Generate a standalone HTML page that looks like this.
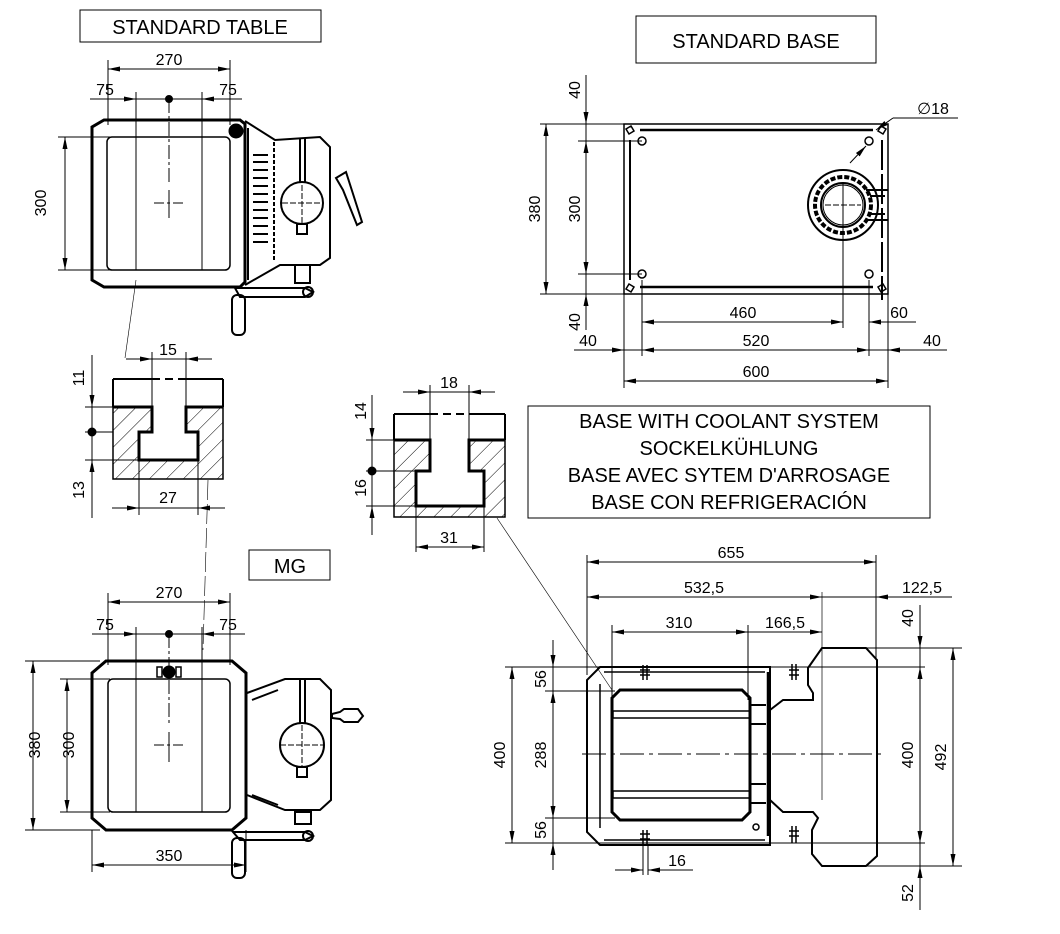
<!DOCTYPE html>
<html><head><meta charset="utf-8"><style>
html,body{margin:0;padding:0;background:#fff;}
svg{display:block;}
text{font-family:"Liberation Sans",sans-serif;fill:#000;}
</style></head><body>
<svg width="1060" height="934" viewBox="0 0 1060 934" xmlns="http://www.w3.org/2000/svg">
<defs>
<marker id="a" viewBox="0 0 12 6" refX="12" refY="3" markerWidth="12" markerHeight="6" markerUnits="userSpaceOnUse" orient="auto-start-reverse"><path d="M0,0.5 L12,3 L0,5.5z" fill="#000"/></marker>
<pattern id="h" patternUnits="userSpaceOnUse" width="12" height="12" patternTransform="rotate(45)"><line x1="0" y1="0" x2="0" y2="12" stroke="#000" stroke-width="1"/></pattern>
</defs>
<g stroke="#000" fill="none" stroke-width="1">

<rect x="80" y="10" width="241" height="32"/>
<rect x="636" y="16" width="240" height="47"/>
<rect x="249" y="550" width="81" height="30"/>
<rect x="528" y="406" width="402" height="112"/>

<!-- STANDARD TABLE -->
<line x1="108" y1="60" x2="108" y2="125"/><line x1="230" y1="60" x2="230" y2="125"/>
<line x1="108" y1="69" x2="230" y2="69" marker-start="url(#a)" marker-end="url(#a)"/>
<line x1="90" y1="99" x2="136" y2="99" marker-end="url(#a)"/>
<line x1="136" y1="99" x2="202" y2="99"/>
<line x1="242" y1="99" x2="202" y2="99" marker-end="url(#a)"/>
<circle cx="169" cy="99" r="3.5" fill="#000"/>
<line x1="136" y1="92" x2="136" y2="270"/><line x1="202" y1="92" x2="202" y2="270"/>
<line x1="169" y1="99" x2="169" y2="185" stroke-dasharray="14,3,3,3"/>
<line x1="154" y1="203" x2="184" y2="203" stroke-dasharray="10,3,3,3"/>
<line x1="169" y1="190" x2="169" y2="218"/>
<polygon points="104,120 240,120 245,124 245,282 240,287 104,287 92,280 92,127" stroke-width="3"/>
<rect x="107" y="137" width="123" height="133" rx="5" stroke-width="1.5"/>
<line x1="58" y1="137" x2="110" y2="137"/><line x1="58" y1="270" x2="110" y2="270"/>
<line x1="65" y1="137" x2="65" y2="270" marker-start="url(#a)" marker-end="url(#a)"/>
<path d="M245,121 L275,140 L320,137 L330,147 L330,258 L320,265 L280,265 L245,285" stroke-width="2"/>
<line x1="248" y1="128" x2="248" y2="280" stroke-width="2"/>
<g stroke-width="2"><line x1="253" y1="155" x2="268" y2="155"/><line x1="253" y1="162" x2="268" y2="162"/><line x1="253" y1="170" x2="268" y2="170"/><line x1="253" y1="178" x2="268" y2="178"/><line x1="253" y1="186" x2="268" y2="186"/><line x1="253" y1="194" x2="268" y2="194"/><line x1="253" y1="202" x2="268" y2="202"/><line x1="253" y1="210" x2="268" y2="210"/><line x1="253" y1="218" x2="268" y2="218"/><line x1="253" y1="226" x2="268" y2="226"/><line x1="253" y1="234" x2="268" y2="234"/><line x1="253" y1="242" x2="268" y2="242"/></g>
<line x1="274" y1="142" x2="274" y2="262" stroke-width="2" stroke-dasharray="4,2"/>
<circle cx="302" cy="203" r="21" stroke-width="2"/>
<line x1="300" y1="138" x2="300" y2="183" stroke-width="2"/><line x1="305" y1="138" x2="305" y2="183" stroke-width="2"/>
<rect x="297" y="224" width="10" height="10" stroke-width="2"/>
<line x1="282" y1="203" x2="322" y2="203" stroke-dasharray="6,2"/>
<line x1="302" y1="185" x2="302" y2="225" stroke-dasharray="6,2"/>
<path d="M336,178 L346,172 L362,222 L357,225 L343,190 Z" stroke-width="2"/>
<circle cx="236" cy="131" r="7" fill="#000"/>
<rect x="295" y="265" width="15" height="18" stroke-width="2"/>
<path d="M235,288 L305,288 L313,292 L305,297 L240,297 Z" stroke-width="2"/>
<circle cx="308" cy="292" r="5" stroke-width="2"/>
<rect x="232" y="295" width="13" height="40" rx="5" stroke-width="2"/>

<line x1="125" y1="358" x2="136" y2="280" stroke-width="0.6"/>
<line x1="208" y1="480" x2="203" y2="650" stroke-width="0.6" stroke-dasharray="20,4"/>
<line x1="497" y1="518" x2="612" y2="690" stroke-width="0.6"/>

<!-- T-SLOT 1 -->
<line x1="113" y1="379" x2="113" y2="407" stroke-width="2"/><line x1="223" y1="379" x2="223" y2="407" stroke-width="2"/>
<line x1="113" y1="379" x2="152" y2="379" stroke-width="2"/><line x1="186" y1="379" x2="223" y2="379" stroke-width="2"/>
<line x1="152" y1="379" x2="186" y2="379" stroke-width="2" stroke-dasharray="8,5"/>
<polygon points="113,407 152,407 152,432 139,432 139,460 198,460 198,432 186,432 186,407 223,407 223,479 113,479" fill="url(#h)" stroke-width="1.5"/>
<polyline points="113,407 152,407 152,432 139,432 139,460 198,460 198,432 186,432 186,407 223,407" stroke-width="3"/>
<line x1="152" y1="352" x2="152" y2="407"/><line x1="186" y1="352" x2="186" y2="407"/>
<line x1="126" y1="359" x2="152" y2="359" marker-end="url(#a)"/><line x1="152" y1="359" x2="186" y2="359"/><line x1="212" y1="359" x2="186" y2="359" marker-end="url(#a)"/>
<line x1="85" y1="407" x2="113" y2="407"/><line x1="85" y1="432" x2="113" y2="432"/><line x1="85" y1="460" x2="139" y2="460"/>
<line x1="92" y1="355" x2="92" y2="407" marker-end="url(#a)"/>
<line x1="92" y1="407" x2="92" y2="460"/>
<line x1="92" y1="518" x2="92" y2="460" marker-end="url(#a)"/>
<circle cx="92" cy="432" r="4" fill="#000"/>
<line x1="139" y1="460" x2="139" y2="515"/><line x1="198" y1="460" x2="198" y2="515"/>
<line x1="112" y1="508" x2="139" y2="508" marker-end="url(#a)"/><line x1="139" y1="508" x2="198" y2="508"/><line x1="225" y1="508" x2="198" y2="508" marker-end="url(#a)"/>

<!-- T-SLOT 2 -->
<line x1="394" y1="414" x2="394" y2="440" stroke-width="2"/><line x1="505" y1="414" x2="505" y2="440" stroke-width="2"/>
<line x1="394" y1="414" x2="430" y2="414" stroke-width="2"/><line x1="469" y1="414" x2="505" y2="414" stroke-width="2"/>
<line x1="430" y1="414" x2="469" y2="414" stroke-width="2" stroke-dasharray="8,5"/>
<polygon points="394,440 430,440 430,471 416,471 416,506 484,506 484,471 469,471 469,440 505,440 505,517 394,517" fill="url(#h)" stroke-width="1.5"/>
<polyline points="394,440 430,440 430,471 416,471 416,506 484,506 484,471 469,471 469,440 505,440" stroke-width="3"/>
<line x1="430" y1="385" x2="430" y2="440"/><line x1="469" y1="385" x2="469" y2="440"/>
<line x1="403" y1="392" x2="430" y2="392" marker-end="url(#a)"/><line x1="430" y1="392" x2="469" y2="392"/><line x1="495" y1="392" x2="469" y2="392" marker-end="url(#a)"/>
<line x1="366" y1="440" x2="394" y2="440"/><line x1="366" y1="471" x2="416" y2="471"/><line x1="366" y1="506" x2="416" y2="506"/>
<line x1="372" y1="395" x2="372" y2="440" marker-end="url(#a)"/>
<line x1="372" y1="440" x2="372" y2="506"/>
<line x1="372" y1="535" x2="372" y2="506" marker-end="url(#a)"/>
<circle cx="372" cy="471" r="4" fill="#000"/>
<line x1="416" y1="506" x2="416" y2="552"/><line x1="484" y1="506" x2="484" y2="552"/>
<line x1="416" y1="547" x2="484" y2="547" marker-start="url(#a)" marker-end="url(#a)"/>

<!-- STANDARD BASE -->
<rect x="624" y="124" width="264" height="170" stroke-width="1.5"/>
<line x1="640" y1="130" x2="873" y2="130" stroke-width="2.5"/>
<line x1="640" y1="287" x2="873" y2="287" stroke-width="2.5"/>
<line x1="630" y1="140" x2="630" y2="280" stroke-width="2"/>
<line x1="882" y1="140" x2="882" y2="300" stroke-width="2" stroke-dasharray="30,4"/>
<circle cx="642" cy="141" r="4" stroke-width="1.5"/><circle cx="869" cy="141" r="4" stroke-width="1.5"/>
<circle cx="642" cy="274" r="4" stroke-width="1.5"/><circle cx="869" cy="274" r="4" stroke-width="1.5"/>
<path d="M626,129 L631,126 L634,131 L629,134 Z" stroke-width="1.5"/>
<path d="M626,289 L631,292 L634,287 L629,284 Z" stroke-width="1.5"/>
<path d="M886,129 L881,126 L878,131 L883,134 Z" stroke-width="1.5"/>
<path d="M886,289 L881,292 L878,287 L883,284 Z" stroke-width="1.5"/>
<circle cx="843" cy="205" r="35" stroke-width="2"/>
<circle cx="843" cy="205" r="28" stroke-width="4" stroke-dasharray="5,2"/>
<circle cx="843" cy="205" r="22" stroke-width="2"/>
<circle cx="843" cy="205" r="20" stroke-width="1"/>
<path d="M866,190 L888,190 M866,220 L888,220 M870,196 L885,196 M870,214 L885,214" stroke-width="2"/>
<line x1="843" y1="182" x2="843" y2="328"/><line x1="825" y1="205" x2="861" y2="205" stroke-dasharray="6,2"/>
<line x1="540" y1="124" x2="624" y2="124"/><line x1="540" y1="294" x2="624" y2="294"/>
<line x1="578" y1="141" x2="642" y2="141"/><line x1="578" y1="274" x2="642" y2="274"/>
<line x1="546" y1="124" x2="546" y2="294" marker-start="url(#a)" marker-end="url(#a)"/>
<line x1="586" y1="141" x2="586" y2="274" marker-start="url(#a)" marker-end="url(#a)"/>
<line x1="586" y1="75" x2="586" y2="124" marker-end="url(#a)"/>
<line x1="586" y1="124" x2="586" y2="141"/>
<line x1="586" y1="330" x2="586" y2="294" marker-end="url(#a)"/>
<line x1="586" y1="274" x2="586" y2="294"/>
<line x1="642" y1="280" x2="642" y2="356"/><line x1="869" y1="280" x2="869" y2="356"/>
<line x1="624" y1="294" x2="624" y2="388"/><line x1="888" y1="294" x2="888" y2="388"/>
<line x1="642" y1="322" x2="843" y2="322" marker-start="url(#a)" marker-end="url(#a)"/>
<line x1="916" y1="322" x2="869" y2="322" marker-end="url(#a)"/>
<line x1="574" y1="350" x2="624" y2="350" marker-end="url(#a)"/>
<line x1="624" y1="350" x2="642" y2="350"/>
<line x1="642" y1="350" x2="869" y2="350" marker-start="url(#a)" marker-end="url(#a)"/>
<line x1="869" y1="350" x2="888" y2="350"/>
<line x1="947" y1="350" x2="888" y2="350" marker-end="url(#a)"/>
<line x1="624" y1="381" x2="888" y2="381" marker-start="url(#a)" marker-end="url(#a)"/>
<line x1="958" y1="118" x2="893" y2="118"/>
<line x1="893" y1="118" x2="876" y2="130" marker-end="url(#a)"/>
<line x1="850" y1="163" x2="866" y2="146" marker-end="url(#a)"/>

<!-- MG -->
<line x1="108" y1="593" x2="108" y2="665"/><line x1="230" y1="593" x2="230" y2="665"/>
<line x1="108" y1="602" x2="230" y2="602" marker-start="url(#a)" marker-end="url(#a)"/>
<line x1="92" y1="634" x2="136" y2="634" marker-end="url(#a)"/>
<line x1="136" y1="634" x2="202" y2="634"/>
<line x1="245" y1="634" x2="202" y2="634" marker-end="url(#a)"/>
<line x1="136" y1="627" x2="136" y2="812"/><line x1="202" y1="627" x2="202" y2="812"/>
<line x1="169" y1="634" x2="169" y2="725" stroke-dasharray="14,3,3,3"/>
<line x1="154" y1="745" x2="184" y2="745" stroke-dasharray="10,3,3,3"/>
<line x1="169" y1="732" x2="169" y2="762"/>
<circle cx="169" cy="634" r="3.5" fill="#000"/>
<polygon points="106,661 232,661 246,673 246,818 232,830 106,830 92,818 92,673" stroke-width="3"/>
<rect x="108" y="679" width="122" height="133" rx="5" stroke-width="1.5"/>
<circle cx="169" cy="672" r="6" fill="#000"/>
<rect x="157" y="667" width="5" height="10" stroke-width="1.5"/><rect x="176" y="667" width="5" height="10" stroke-width="1.5"/>
<line x1="25" y1="661" x2="100" y2="661"/><line x1="25" y1="830" x2="100" y2="830"/>
<line x1="60" y1="679" x2="110" y2="679"/><line x1="60" y1="812" x2="110" y2="812"/>
<line x1="33" y1="661" x2="33" y2="830" marker-start="url(#a)" marker-end="url(#a)"/>
<line x1="67" y1="679" x2="67" y2="812" marker-start="url(#a)" marker-end="url(#a)"/>
<line x1="92" y1="830" x2="92" y2="872"/><line x1="246" y1="830" x2="246" y2="872"/>
<line x1="92" y1="865" x2="246" y2="865" marker-start="url(#a)" marker-end="url(#a)"/>
<path d="M247,693 L285,679 L320,679 L331,690 L331,800 L320,810 L285,810 L247,795" stroke-width="2"/>
<line x1="252" y1="700" x2="278" y2="690" stroke-width="2"/><line x1="252" y1="795" x2="278" y2="805" stroke-width="2"/>
<circle cx="302" cy="745" r="22" stroke-width="2"/>
<line x1="300" y1="680" x2="300" y2="723" stroke-width="2"/><line x1="305" y1="680" x2="305" y2="723" stroke-width="2"/>
<rect x="297" y="767" width="10" height="10" stroke-width="2"/>
<line x1="280" y1="745" x2="324" y2="745" stroke-dasharray="6,2"/>
<line x1="302" y1="725" x2="302" y2="768" stroke-dasharray="6,2"/>
<path d="M332,714 L340,712 L344,709 L358,709 L363,716 L358,722 L344,722 L340,719 L332,718 Z" stroke-width="2"/>
<rect x="295" y="812" width="16" height="12" stroke-width="2"/>
<path d="M233,832 L305,832 L313,836 L305,840 L240,840 Z" stroke-width="2"/>
<circle cx="308" cy="836" r="5" stroke-width="2"/>
<rect x="232" y="838" width="13" height="40" rx="5" stroke-width="2"/>

<!-- BASE WITH COOLANT -->
<path d="M600,667 L770,667 L770,845 L600,845 L587,832 L587,680 Z" stroke-width="2"/>
<path d="M604,672 L765,672 M600,684 L600,828 M604,840 L765,840" stroke-width="1.5"/>
<line x1="768" y1="672" x2="768" y2="836" stroke-width="2.5"/>
<path d="M620,690 L742,690 L750,698 L750,812 L742,820 L620,820 L612,812 L612,698 Z" stroke-width="3"/>
<rect x="613" y="711" width="137" height="7" stroke-width="1.5"/>
<rect x="613" y="791" width="137" height="7" stroke-width="1.5"/>
<path d="M770,710 L783,700 L813,700 L813,693 L808,685 L808,668 L822,648 L866,648 L877,660 L877,856 L866,866 L822,866 L812,854 L812,830 L818,818 L813,812 L783,812 L770,800" stroke-width="2"/>
<path d="M750,705 L766,705 M750,724 L766,724 M750,784 L766,784 M750,803 L766,803" stroke-width="2"/>
<circle cx="756" cy="827" r="3" stroke-width="1.5"/>
<g stroke-width="1.5"><line x1="643" y1="665" x2="643" y2="680"/><line x1="647" y1="665" x2="647" y2="680"/><line x1="640" y1="670" x2="650" y2="670"/><line x1="640" y1="675" x2="650" y2="675"/>
<line x1="643" y1="830" x2="643" y2="845"/><line x1="647" y1="830" x2="647" y2="845"/><line x1="640" y1="834" x2="650" y2="834"/><line x1="640" y1="839" x2="650" y2="839"/>
<line x1="792" y1="664" x2="792" y2="680"/><line x1="796" y1="664" x2="796" y2="680"/><line x1="789" y1="670" x2="799" y2="670"/><line x1="789" y1="675" x2="799" y2="675"/>
<line x1="792" y1="826" x2="792" y2="843"/><line x1="796" y1="826" x2="796" y2="843"/><line x1="789" y1="831" x2="799" y2="831"/><line x1="789" y1="836" x2="799" y2="836"/></g>
<line x1="582" y1="754" x2="882" y2="754" stroke-dasharray="24,5,4,5"/>
<line x1="822" y1="592" x2="822" y2="800" stroke-width="0.7"/>
<line x1="587" y1="555" x2="587" y2="675"/><line x1="876" y1="555" x2="876" y2="660"/>
<line x1="612" y1="625" x2="612" y2="700"/><line x1="748" y1="625" x2="748" y2="700"/>
<line x1="587" y1="562" x2="876" y2="562" marker-start="url(#a)" marker-end="url(#a)"/>
<line x1="587" y1="597" x2="822" y2="597" marker-start="url(#a)" marker-end="url(#a)"/>
<line x1="822" y1="597" x2="876" y2="597"/>
<line x1="952" y1="597" x2="876" y2="597" marker-end="url(#a)"/>
<line x1="612" y1="632" x2="748" y2="632" marker-start="url(#a)" marker-end="url(#a)"/>
<line x1="748" y1="632" x2="822" y2="632" marker-end="url(#a)"/>
<line x1="505" y1="667" x2="925" y2="667"/><line x1="505" y1="843" x2="925" y2="843"/>
<line x1="545" y1="691" x2="615" y2="691"/><line x1="545" y1="818" x2="615" y2="818"/>
<line x1="866" y1="648" x2="962" y2="648"/><line x1="866" y1="866" x2="962" y2="866"/>
<line x1="512" y1="667" x2="512" y2="843" marker-start="url(#a)" marker-end="url(#a)"/>
<line x1="553" y1="640" x2="553" y2="667" marker-end="url(#a)"/>
<line x1="553" y1="667" x2="553" y2="691"/>
<line x1="553" y1="691" x2="553" y2="818" marker-start="url(#a)" marker-end="url(#a)"/>
<line x1="553" y1="818" x2="553" y2="843"/>
<line x1="553" y1="870" x2="553" y2="843" marker-end="url(#a)"/>
<line x1="920" y1="605" x2="920" y2="648" marker-end="url(#a)"/>
<line x1="920" y1="648" x2="920" y2="667"/>
<line x1="920" y1="667" x2="920" y2="843" marker-start="url(#a)" marker-end="url(#a)"/>
<line x1="920" y1="843" x2="920" y2="866"/>
<line x1="920" y1="910" x2="920" y2="866" marker-end="url(#a)"/>
<line x1="953" y1="648" x2="953" y2="866" marker-start="url(#a)" marker-end="url(#a)"/>
<line x1="643" y1="845" x2="643" y2="875"/><line x1="648" y1="845" x2="648" y2="875"/>
<line x1="615" y1="870" x2="643" y2="870" marker-end="url(#a)"/>
<line x1="693" y1="870" x2="648" y2="870" marker-end="url(#a)"/>
</g>

<g font-size="20">
<text x="200" y="34" text-anchor="middle">STANDARD TABLE</text>
<text x="756" y="48" text-anchor="middle">STANDARD BASE</text>
<text x="290" y="573" text-anchor="middle">MG</text>
<text x="729" y="428" text-anchor="middle">BASE WITH COOLANT SYSTEM</text>
<text x="729" y="455" text-anchor="middle">SOCKELKÜHLUNG</text>
<text x="729" y="482" text-anchor="middle">BASE AVEC SYTEM D'ARROSAGE</text>
<text x="729" y="509" text-anchor="middle">BASE CON  REFRIGERACIÓN</text>
</g>
<g font-size="16">
<text x="169" y="65" text-anchor="middle">270</text>
<text x="105" y="95" text-anchor="middle">75</text>
<text x="228" y="95" text-anchor="middle">75</text>
<text x="168" y="355" text-anchor="middle">15</text>
<text x="168" y="503" text-anchor="middle">27</text>
<text x="449" y="388" text-anchor="middle">18</text>
<text x="449" y="543" text-anchor="middle">31</text>
<text x="169" y="598" text-anchor="middle">270</text>
<text x="105" y="630" text-anchor="middle">75</text>
<text x="228" y="630" text-anchor="middle">75</text>
<text x="169" y="861" text-anchor="middle">350</text>
<text x="743" y="318" text-anchor="middle">460</text>
<text x="899" y="318" text-anchor="middle">60</text>
<text x="588" y="346" text-anchor="middle">40</text>
<text x="756" y="346" text-anchor="middle">520</text>
<text x="932" y="346" text-anchor="middle">40</text>
<text x="756" y="377" text-anchor="middle">600</text>
<text x="933" y="114" text-anchor="middle">∅18</text>
<text x="731" y="558" text-anchor="middle">655</text>
<text x="704" y="593" text-anchor="middle">532,5</text>
<text x="922" y="593" text-anchor="middle">122,5</text>
<text x="679" y="628" text-anchor="middle">310</text>
<text x="785" y="628" text-anchor="middle">166,5</text>
<text x="677" y="866" text-anchor="middle">16</text>
<g text-anchor="middle">
<text transform="translate(46,203) rotate(-90)">300</text>
<text transform="translate(84,378) rotate(-90)">11</text>
<text transform="translate(84,490) rotate(-90)">13</text>
<text transform="translate(366,411) rotate(-90)">14</text>
<text transform="translate(366,488) rotate(-90)">16</text>
<text transform="translate(40,745) rotate(-90)">380</text>
<text transform="translate(74,745) rotate(-90)">300</text>
<text transform="translate(540,209) rotate(-90)">380</text>
<text transform="translate(580,209) rotate(-90)">300</text>
<text transform="translate(580,90) rotate(-90)">40</text>
<text transform="translate(580,322) rotate(-90)">40</text>
<text transform="translate(505,755) rotate(-90)">400</text>
<text transform="translate(546,679) rotate(-90)">56</text>
<text transform="translate(546,755) rotate(-90)">288</text>
<text transform="translate(546,830) rotate(-90)">56</text>
<text transform="translate(913,755) rotate(-90)">400</text>
<text transform="translate(946,757) rotate(-90)">492</text>
<text transform="translate(913,618) rotate(-90)">40</text>
<text transform="translate(913,893) rotate(-90)">52</text>
</g>
</g>
</svg>
</body></html>
